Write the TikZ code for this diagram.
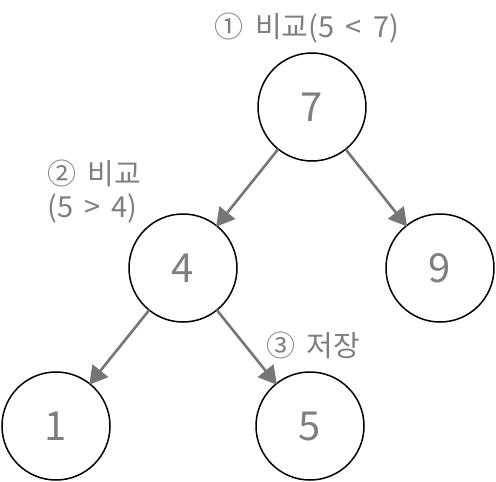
\documentclass[tikz,border=0pt]{standalone}
\usepackage{fontspec}
\setmainfont{Noto Sans CJK KR}
\usetikzlibrary{arrows.meta}
\definecolor{txtgray}{HTML}{7F7F7F}
\definecolor{arrgray}{HTML}{767676}
\begin{document}
\begin{tikzpicture}[x=1pt,y=-1pt,
  treenode/.style={circle,draw=black,line width=1.5pt,minimum size=108pt,inner sep=0pt,outer sep=0pt,text=txtgray,font=\fontsize{40}{46}\selectfont},
  edge/.style={draw=arrgray,line width=2.6pt,-{Triangle[length=18pt,width=20pt]},shorten >=-1pt},
  lbl/.style={text=txtgray,font=\fontsize{29}{33}\selectfont,inner sep=0pt}]
\useasboundingbox (0,0) rectangle (496,482);
\node[treenode] (n7) at (312,107) {7};
\node[treenode] (n4) at (183,268) {4};
\node[treenode] (n9) at (440,268) {9};
\node[treenode] (n1) at (56,426) {1};
\node[treenode] (n5) at (310,426) {5};
\draw[edge] (n7) -- (n4);
\draw[edge] (n7) -- (n9);
\draw[edge] (n4) -- (n1);
\draw[edge] (n4) -- (n5);
\node[lbl] (l1) at (307,28) {①\, 비교(5 \,<\, 7)};
\node[lbl,align=left,anchor=north west] (l2) at (47,160) {②\, 비교\\(5 \,>\, 4)};
\node[lbl] (l3) at (313,345) {③\, 저장};
\end{tikzpicture}
\end{document}
